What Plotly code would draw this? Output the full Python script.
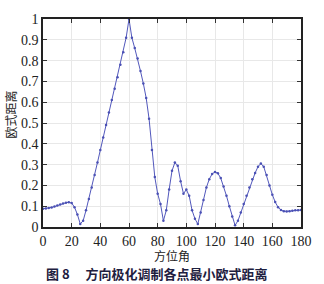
import plotly.graph_objects as go

angles = list(range(0, 181, 2))
min_dist = [
    0.088, 0.089, 0.091, 0.094, 0.098, 0.103, 0.108, 0.113, 0.117, 0.119,
    0.115, 0.095, 0.060, 0.015, 0.030, 0.080, 0.135, 0.190, 0.250, 0.310,
    0.370, 0.430, 0.490, 0.550, 0.610, 0.665, 0.720, 0.780, 0.840, 0.910,
    1.000, 0.910, 0.860, 0.810, 0.750, 0.690, 0.620, 0.520, 0.370, 0.240,
    0.160, 0.110, 0.030, 0.080, 0.180, 0.270, 0.310, 0.295, 0.220, 0.160,
    0.180, 0.150, 0.080, 0.040, 0.014, 0.070, 0.130, 0.190, 0.230, 0.255,
    0.265, 0.258, 0.235, 0.195, 0.150, 0.100, 0.050, 0.008, 0.030, 0.070,
    0.110, 0.150, 0.190, 0.230, 0.260, 0.290, 0.305, 0.290, 0.250, 0.200,
    0.155, 0.120, 0.095, 0.082, 0.076, 0.075, 0.076, 0.078, 0.080, 0.081,
    0.082,
]
x_ticks = [0, 20, 40, 60, 80, 100, 120, 140, 160, 180]
y_ticks = [0, 0.1, 0.2, 0.3, 0.4, 0.5, 0.6, 0.7, 0.8, 0.9, 1]
y_ticktext = ["0", "0.1", "0.2", "0.3", "0.4", "0.5", "0.6", "0.7", "0.8", "0.9", "1"]

serif = "Liberation Serif, Times New Roman, serif"
cjk = "Noto Sans CJK SC"

fig = go.Figure()
fig.add_trace(go.Scatter(
    x=angles, y=min_dist, mode="lines+markers",
    line=dict(color="#5258bc", width=1),
    marker=dict(color="#4a50b4", size=2.5),
    showlegend=False,
))

axis_common = dict(
    showline=True, linecolor="#222222", linewidth=1.5, mirror="ticks",
    ticks="inside", ticklen=4, tickcolor="#333333",
    showgrid=True, gridcolor="#e8e8e8", gridwidth=1,
    zeroline=False,
    tickfont=dict(family=serif, size=14, color="#222222"),
)

fig.update_xaxes(range=[0, 180], tickvals=x_ticks, **axis_common)
fig.update_yaxes(range=[0, 1], tickvals=y_ticks, ticktext=y_ticktext, **axis_common)

fig.update_layout(
    width=324, height=284,
    margin=dict(l=43, r=18, t=12, b=57),
    paper_bgcolor="white", plot_bgcolor="white",
    annotations=[
        dict(text="方位角", xref="paper", yref="paper", x=0.5, y=-0.135,
             xanchor="center", yanchor="middle", showarrow=False,
             font=dict(family=cjk, size=12, color="#222222")),
        dict(text="欧式距离", xref="paper", yref="paper", x=-0.125, y=0.54,
             xanchor="center", yanchor="middle", showarrow=False, textangle=-90,
             font=dict(family=cjk, size=12, color="#222222")),
        dict(text="<b>图 8　 方向极化调制各点最小欧式距离</b>", xref="paper", yref="paper",
             x=0.44, y=-0.222, xanchor="center", yanchor="middle", showarrow=False,
             font=dict(family=cjk, size=13, color="#1e2040")),
    ],
)

fig.write_html("out.html")
